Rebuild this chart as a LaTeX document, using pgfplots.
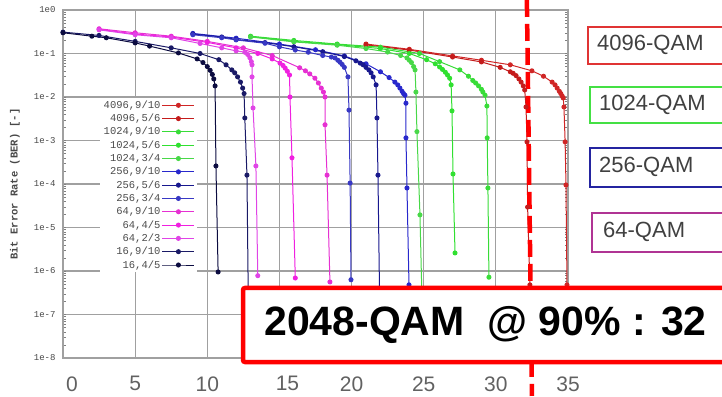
\documentclass[border=0pt]{standalone}
\usepackage{fontspec}
\setmainfont{Liberation Sans}
\newfontfamily\monofont{Liberation Mono}
\usepackage{pgfplots}
\pgfplotsset{compat=1.18}
\definecolor{cRedA}{HTML}{D02626}
\definecolor{cRedB}{HTML}{C41C1C}
\definecolor{cGrnA}{HTML}{38DC38}
\definecolor{cGrnB}{HTML}{30E030}
\definecolor{cGrnC}{HTML}{48D848}
\definecolor{cBluA}{HTML}{2828CC}
\definecolor{cBluB}{HTML}{18188E}
\definecolor{cBluC}{HTML}{3838C4}
\definecolor{cMagA}{HTML}{E630D2}
\definecolor{cMagB}{HTML}{F020E0}
\definecolor{cMagC}{HTML}{E044E6}
\definecolor{cNavA}{HTML}{1A1A66}
\definecolor{cNavB}{HTML}{0C0C40}
\definecolor{gridgray}{HTML}{A0A0A0}
\definecolor{boxRed}{HTML}{E03434}
\definecolor{boxGrn}{HTML}{44E044}
\definecolor{boxBlu}{HTML}{2424A0}
\definecolor{boxMag}{HTML}{B03494}
\begin{document}
\begin{tikzpicture}
\path[use as bounding box] (0,0) rectangle (722pt,396pt);
\begin{axis}[
  at={(63pt,38pt)}, anchor=south west,
  scale only axis, width=505pt, height=348pt,
  xmin=0, xmax=35, ymode=log, ymin=1e-8, ymax=1,
  xtick={0,5,10,15,20,25,30,35},
  xticklabels={\hspace*{18pt}0,5,10,\hspace*{16pt}15,20,25,30,35},
  ytick={1e-8,1e-7,1e-6,1e-5,1e-4,1e-3,1e-2,1e-1,1},
  yticklabels={1e-8,1e-7,1e-6,1e-5,1e-4,1e-3,1e-2,1e-1,1e0},
  minor ytick={}, minor xtick={},
  grid=major, major grid style={gridgray, line width=1.1pt},
  axis line style={gridgray, line width=1.1pt},
  major tick length=0pt,
  xticklabel style={font=\fontsize{21}{21}\selectfont, text=black!62, yshift=-15pt},
  yticklabel style={font=\monofont\fontsize{9}{9}\selectfont, text=black!72, xshift=-4pt},
  ylabel={Bit Error Rate (BER) [-]},
  ylabel style={font=\monofont\bfseries\fontsize{10.5}{10.5}\selectfont, text=black!72, at={(axis description cs:-0.095,0.5)}, anchor=center},
  clip=false,
  every axis plot/.append style={line width=1pt, mark=*, mark size=2pt},
  legend style={at={(0.0733,0.747)}, anchor=north west, draw=none, fill=white,
    font=\monofont\fontsize{10.5}{10.5}\selectfont, text=black!70,
    inner xsep=2pt, inner ysep=1pt, row sep=1.2pt, nodes={inner sep=1.5pt}},
  legend cell align=right, legend plot pos=right,
  legend image code/.code={\draw[mark repeat=2,mark phase=2,#1] plot coordinates {(0pt,0pt)(16pt,0pt)(32pt,0pt)};},
]
% 4096, 9/10
\addplot[cRedA, mark options={fill=cRedA}] coordinates {(21,0.165) (24,0.125) (27,0.088) (29,0.07) (31,0.055) (32.5,0.04) (33.3,0.03) (33.9,0.022) (34.1,0.019) (34.25,0.016) (34.4,0.0135) (34.5,0.012) (34.6,0.0105) (34.67,0.0095) (34.72,0.0059) (34.8,9.3e-4) (34.86,9.5e-5) (34.93,4.8e-7)};
\addlegendentry{4096,9/10}
% 4096, 5/6
\addplot[cRedB, mark options={fill=cRedB}] coordinates {(21,0.158) (24,0.12) (27,0.083) (29,0.064) (30.3,0.048) (31.0,0.038) (31.2,0.035) (31.4,0.031) (31.6,0.026) (31.75,0.022) (31.9,0.018) (32.0,0.0145) (32.09,0.0059) (32.16,9.3e-4) (32.2,2.95e-5) (32.36,4.8e-7)};
\addlegendentry{4096,5/6}
% 1024, 9/10
\addplot[cGrnA, mark options={fill=cGrnA}] coordinates {(13,0.25) (16,0.20) (19,0.165) (22,0.14) (24.7,0.10) (26.1,0.065) (27.5,0.042) (28.1,0.03) (28.4,0.024) (28.6,0.021) (28.8,0.018) (29.0,0.015) (29.1,0.013) (29.25,0.011) (29.38,0.0062) (29.4,0.00115) (29.45,8.1e-5) (29.52,7.2e-7)};
\addlegendentry{1024,9/10}
% 1024, 5/6
\addplot[cGrnB, mark options={fill=cGrnB}] coordinates {(13,0.245) (16,0.19) (19,0.16) (22,0.13) (24,0.1) (25.2,0.072) (25.8,0.058) (26.1,0.049) (26.3,0.043) (26.5,0.037) (26.65,0.032) (26.8,0.027) (26.9,0.019) (26.96,0.0048) (27.03,1.7e-4) (27.17,2.6e-6)};
\addlegendentry{1024,5/6}
% 1024, 3/4
\addplot[cGrnC, mark options={fill=cGrnC}] coordinates {(13,0.24) (16,0.185) (19,0.155) (21,0.13) (22.5,0.108) (23.4,0.09) (23.84,0.079) (24.0,0.07) (24.15,0.062) (24.3,0.05) (24.4,0.042) (24.46,0.013) (24.53,0.0016) (24.74,1.95e-5) (24.9,1.2e-7)};
\addlegendentry{1024,3/4}
% 256, 9/10
\addplot[cBluA, mark options={fill=cBluA}] coordinates {(9,0.29) (12,0.225) (15,0.165) (17.5,0.122) (19.5,0.088) (21,0.058) (22,0.038) (22.6,0.028) (23.0,0.022) (23.2,0.019) (23.35,0.016) (23.5,0.0135) (23.6,0.012) (23.7,0.011) (23.77,0.0072) (23.77,0.00115) (23.84,8.1e-5) (23.98,4.8e-7)};
\addlegendentry{256,9/10}
% 256, 5/6
\addplot[cBluB, mark options={fill=cBluB}] coordinates {(9,0.28) (11,0.24) (12,0.21) (14,0.178) (16,0.143) (18,0.11) (19.5,0.085) (20.3,0.068) (20.6,0.06) (20.8,0.055) (21.0,0.048) (21.2,0.042) (21.35,0.036) (21.5,0.029) (21.7,0.019) (21.76,0.0033) (21.83,1.6e-4) (21.95,1.5e-7)};
\addlegendentry{256,5/6}
% 256, 3/4
\addplot[cBluC, mark options={fill=cBluC}] coordinates {(9,0.27) (11,0.23) (12,0.205) (14,0.172) (15,0.142) (16.1,0.12) (17,0.107) (18,0.09) (18.6,0.083) (18.85,0.079) (19.05,0.07) (19.2,0.063) (19.35,0.056) (19.5,0.048) (19.75,0.029) (19.82,0.005) (19.9,1.05e-4) (19.96,6.3e-7)};
\addlegendentry{256,3/4}
% 64, 9/10
\addplot[cMagA, mark options={fill=cMagA}] coordinates {(2.5,0.37) (5,0.30) (7.5,0.25) (10,0.19) (12.5,0.135) (14.5,0.09) (16.4,0.047) (16.8,0.04) (17.1,0.034) (17.46,0.027) (17.7,0.021) (17.9,0.016) (18.05,0.013) (18.16,0.010) (18.16,0.0023) (18.3,1.6e-4) (18.5,5.6e-7)};
\addlegendentry{64,9/10}
% 64, 4/5
\addplot[cMagB, mark options={fill=cMagB}] coordinates {(2.5,0.36) (5,0.28) (7.5,0.24) (10,0.18) (12,0.135) (13.5,0.10) (14.5,0.075) (15.04,0.06) (15.25,0.053) (15.4,0.046) (15.55,0.039) (15.7,0.032) (15.73,0.01) (15.87,4e-4) (16.1,6.9e-7)};
\addlegendentry{64,4/5}
% 64, 2/3
\addplot[cMagC, mark options={fill=cMagC}] coordinates {(2.5,0.35) (5,0.27) (7.5,0.23) (9.5,0.17) (11,0.135) (12,0.115) (12.6,0.107) (12.8,0.095) (12.95,0.08) (13.05,0.065) (13.1,0.055) (13.1,0.029) (13.17,0.0056) (13.37,2.6e-4) (13.5,7.8e-7)};
\addlegendentry{64,2/3}
% 16, 9/10
\addplot[cNavA, mark options={fill=cNavA}] coordinates {(0,0.31) (2.5,0.26) (5,0.19) (7.5,0.135) (9.5,0.10) (10.8,0.072) (11.3,0.055) (11.7,0.042) (11.9,0.036) (12.1,0.029) (12.3,0.022) (12.45,0.016) (12.55,0.012) (12.6,0.0033) (12.75,1.6e-4) (12.85,1.2e-7)};
\addlegendentry{16,9/10}
% 16, 4/5
\addplot[cNavB, mark options={fill=cNavB}] coordinates {(0,0.30) (2,0.25) (3,0.23) (5,0.175) (6,0.148) (8,0.103) (9.3,0.075) (9.7,0.062) (10.0,0.05) (10.2,0.041) (10.35,0.033) (10.45,0.026) (10.54,0.018) (10.6,2.6e-4) (10.75,9.5e-7)};
\addlegendentry{16,4/5}
% 2048-QAM marker line at 32 dB
\addplot[forget plot, red, no marks, line width=4.5pt, dash pattern=on 17pt off 7pt] coordinates {(32.15,1.7) (32.5,1.34e-9)};
\end{axis}
% constellation labels
\draw[boxRed, line width=1.8pt] (588pt,369pt) rectangle (730pt,332pt);
\node[anchor=west, text=black!75, font=\fontsize{22}{22}\selectfont, inner sep=0pt] at (597pt,351pt) {4096-QAM};
\draw[boxGrn, line width=1.8pt] (590pt,309pt) rectangle (730pt,273pt);
\node[anchor=west, text=black!75, font=\fontsize{22}{22}\selectfont, inner sep=0pt] at (599pt,291pt) {1024-QAM};
\draw[boxBlu, line width=1.8pt] (590pt,248pt) rectangle (730pt,209pt);
\node[anchor=west, text=black!75, font=\fontsize{22}{22}\selectfont, inner sep=0pt] at (599pt,229pt) {256-QAM};
\draw[boxMag, line width=1.8pt] (592pt,183pt) rectangle (730pt,144pt);
\node[anchor=west, text=black!75, font=\fontsize{22}{22}\selectfont, inner sep=0pt] at (603pt,164pt) {64-QAM};
% result box
\draw[red, line width=4.5pt, fill=white, rounded corners=2pt] (243pt,108pt) rectangle (735pt,34pt);
\node[anchor=west, text=black, font=\bfseries\fontsize{41}{41}\selectfont, inner sep=0pt] at (264pt,71pt) {2048-QAM\ \ @ 90\% : 32};
\end{tikzpicture}
\end{document}
